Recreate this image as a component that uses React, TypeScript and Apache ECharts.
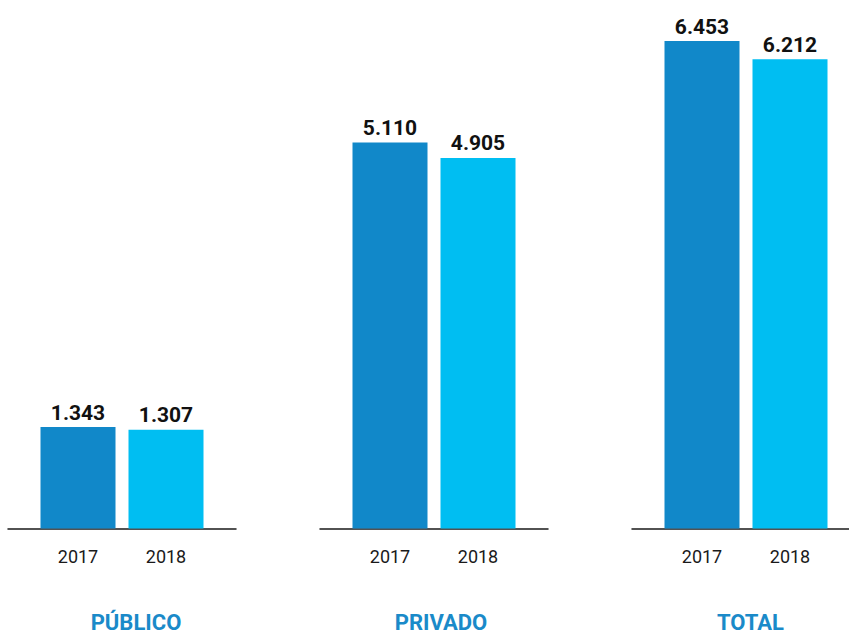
import React, { useEffect, useRef } from "react";
import * as echarts from "echarts";

const groups = ["PÚBLICO", "PRIVADO", "TOTAL"];
const years = ["2017", "2018"];
const values2017 = [1343, 5110, 6453];
const values2018 = [1307, 4905, 6212];
const yearColors = ["#1188C9", "#00BEF2"];
const groupLabelShift = [14, 7, 10];

const fmt = (v: number) => {
  const s = String(Math.round(v));
  return s.replace(/\B(?=(\d{3})+(?!\d))/g, ".");
};

export default function App() {
  const ref = useRef<HTMLDivElement>(null);
  useEffect(() => {
    if (!ref.current) return;
    const chart = echarts.init(ref.current, null, { renderer: "svg" });
    const maxV = Math.max(...values2017, ...values2018);
    const top = 41;
    const bottom = 107.5;
    const grids: any[] = [];
    const xAxes: any[] = [];
    const yAxes: any[] = [];
    const series: any[] = [];
    groups.forEach((g, i) => {
      const left = 8 + i * 312;
      // outer grid: baseline + group name
      grids.push({ left, width: 228, top, bottom, containLabel: false });
      xAxes.push({
        type: "category",
        gridIndex: grids.length - 1,
        data: [g],
        axisLine: { show: true, lineStyle: { color: "#1a1a1a", width: 1.5 } },
        axisTick: { show: false },
        axisLabel: {
          margin: 83,
          fontSize: 22,
          fontWeight: "bold",
          color: "#1A8AC9",
          fontFamily: "Roboto, sans-serif",
          padding: [0, 0, 0, groupLabelShift[i] * 2],
        },
      });
      yAxes.push({ type: "value", gridIndex: grids.length - 1, min: 0, max: maxV, show: false });
      // inner grid: bars + years
      grids.push({ left: left + 26, width: 176, top, bottom, containLabel: false });
      xAxes.push({
        type: "category",
        gridIndex: grids.length - 1,
        data: years,
        axisLine: { show: false },
        axisTick: { show: false },
        axisLabel: {
          margin: 19,
          fontSize: 18,
          color: "#1a1a1a",
          fontFamily: "Roboto, sans-serif",
        },
      });
      yAxes.push({ type: "value", gridIndex: grids.length - 1, min: 0, max: maxV, show: false });
      series.push({
        type: "bar",
        xAxisIndex: xAxes.length - 1,
        yAxisIndex: yAxes.length - 1,
        barWidth: 75,
        data: [values2017[i], values2018[i]].map((v, k) => ({
          value: v,
          itemStyle: { color: yearColors[k] },
        })),
        label: {
          show: true,
          position: "top",
          distance: 4,
          fontSize: 21,
          fontWeight: "bold",
          color: "#111111",
          fontFamily: "Roboto, sans-serif",
          formatter: (p: any) => fmt(p.value),
        },
      });
    });
    chart.setOption({
      animation: false,
      backgroundColor: "#ffffff",
      grid: grids,
      xAxis: xAxes,
      yAxis: yAxes,
      series,
    });
    return () => chart.dispose();
  }, []);
  return (
    <div
      ref={ref}
      style={{ position: "fixed", left: 0, top: 0, width: 849, height: 636 }}
    />
  );
}
